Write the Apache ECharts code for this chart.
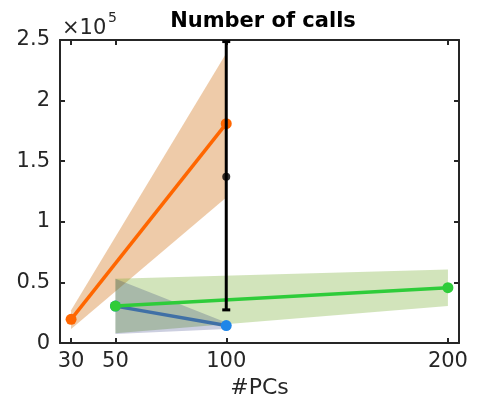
<!DOCTYPE html>
<html>
<head>
<meta charset="utf-8">
<script src="https://cdn.jsdelivr.net/npm/echarts@6/dist/echarts.min.js"></script>
<style>html,body{margin:0;padding:0;background:#fff}#c{width:477px;height:404px}</style>
</head>
<body>
<div id="c"></div>
<script>
// ---- data ----
var xTicks = [30, 50, 100, 200];
var yTicks = [0, 50000, 100000, 150000, 200000, 250000];

var pcsOrange = [30, 100];
var callsOrange = [19600, 181000];
var loOrange = [11700, 120000];
var hiOrange = [27000, 239000];

var pcsGreen = [50, 200];
var callsGreen = [30500, 45700];
var loGreen = [8200, 30500];
var hiGreen = [53000, 60700];

var pcsBlue = [50, 100];
var callsBlue = [30500, 14500];
var loBlue = [7600, 11700];
var hiBlue = [53000, 17000];

var pcsBlack = [100];
var callsBlack = [137300];
var loBlack = [27400];
var hiBlack = [248700];

var FONT = 'DejaVu Sans';
var TXT = '#262626';

function pairs(xs, ys) { return xs.map(function (x, i) { return [x, ys[i]]; }); }

function bandSeries(xs, lo, hi, color, z) {
  return {
    type: 'custom', z: z, silent: true,
    data: pairs(xs, lo),
    renderItem: function (params, api) {
      if (params.dataIndex !== 0) return null;
      var pts = [];
      for (var i = 0; i < xs.length; i++) pts.push(api.coord([xs[i], hi[i]]));
      for (var j = xs.length - 1; j >= 0; j--) pts.push(api.coord([xs[j], lo[j]]));
      return { type: 'polygon', shape: { points: pts }, style: { fill: color } };
    }
  };
}

function lineSeries(xs, ys, lineColor, markColor, z) {
  return {
    type: 'line', z: z, data: pairs(xs, ys),
    symbol: 'circle', symbolSize: 11, showSymbol: true,
    lineStyle: { color: lineColor, width: 3.5 },
    itemStyle: { color: markColor },
    emphasis: { disabled: true }, animation: false
  };
}

var chart = echarts.init(document.getElementById('c'), null, { renderer: 'canvas' });

var axisLineStyle = { color: TXT, width: 2 };

chart.setOption({
  animation: false,
  backgroundColor: '#fff',
  title: {
    text: 'Number of calls', left: 258, top: 6, textAlign: 'center',
    textStyle: { fontFamily: FONT, fontWeight: 'bold', fontSize: 21, color: '#000' }
  },
  grid: { left: 60, right: 18, top: 40, bottom: 58, containLabel: false },
  xAxis: [{
    type: 'value', min: 25, max: 205, position: 'bottom',
    name: '#PCs', nameLocation: 'middle', nameGap: 27,
    nameTextStyle: { fontFamily: FONT, fontSize: 22, color: TXT },
    axisLine: { show: true, onZero: false, lineStyle: axisLineStyle },
    axisTick: { show: true, inside: true, length: 5, customValues: xTicks, lineStyle: axisLineStyle },
    axisLabel: { customValues: xTicks, fontFamily: FONT, fontSize: 21, color: TXT, margin: 8 },
    splitLine: { show: false }
  }, {
    type: 'value', min: 25, max: 205, position: 'top',
    axisLine: { show: true, onZero: false, lineStyle: axisLineStyle },
    axisTick: { show: true, inside: true, length: 5, customValues: xTicks, lineStyle: axisLineStyle },
    axisLabel: { show: false }, splitLine: { show: false }
  }],
  yAxis: [{
    type: 'value', min: 0, max: 250000, interval: 50000, position: 'left',
    axisLine: { show: true, onZero: false, lineStyle: axisLineStyle },
    axisTick: { show: true, inside: true, length: 5, lineStyle: axisLineStyle },
    axisLabel: {
      fontFamily: FONT, fontSize: 21, color: TXT, margin: 10,
      formatter: function (v) { return String(+(v / 1e5).toFixed(2)); }
    },
    splitLine: { show: false }
  }, {
    type: 'value', min: 0, max: 250000, interval: 50000, position: 'right',
    axisLine: { show: true, onZero: false, lineStyle: axisLineStyle },
    axisTick: { show: true, inside: true, length: 5, lineStyle: axisLineStyle },
    axisLabel: { show: false }, splitLine: { show: false }
  }],
  graphic: [
    { type: 'text', left: 62, top: 18, style: { text: '×10', font: '21px "' + FONT + '"', fill: TXT } },
    { type: 'text', left: 108, top: 11, style: { text: '5', font: '14px "' + FONT + '"', fill: TXT } }
  ],
  series: [
    bandSeries(pcsOrange, loOrange, hiOrange, 'rgba(214,130,50,0.42)', 1),
    bandSeries(pcsGreen, loGreen, hiGreen, 'rgba(119,172,48,0.33)', 2),
    bandSeries(pcsBlue, loBlue, hiBlue, 'rgba(0,13,102,0.2)', 3),
    lineSeries(pcsBlue, callsBlue, '#4070A6', '#1F86E8', 4),
    lineSeries(pcsGreen, callsGreen, '#2FCC3A', '#2FCC3A', 5),
    lineSeries(pcsOrange, callsOrange, '#FF6600', '#FF6600', 6),
    {
      type: 'custom', z: 7, silent: true,
      data: pcsBlack.map(function (x, i) { return [x, loBlack[i], hiBlack[i]]; }),
      encode: { x: 0, y: [1, 2] },
      renderItem: function (params, api) {
        var top = api.coord([api.value(0), api.value(2)]);
        var bot = api.coord([api.value(0), api.value(1)]);
        var hw = 4;
        var st = { stroke: '#000', lineWidth: 3 };
        return {
          type: 'group', children: [
            { type: 'line', shape: { x1: top[0], y1: top[1], x2: bot[0], y2: bot[1] }, style: st },
            { type: 'line', shape: { x1: top[0] - hw, y1: top[1], x2: top[0] + hw, y2: top[1] }, style: st },
            { type: 'line', shape: { x1: bot[0] - hw, y1: bot[1], x2: bot[0] + hw, y2: bot[1] }, style: st }
          ]
        };
      }
    },
    {
      type: 'scatter', z: 8, data: pairs(pcsBlack, callsBlack),
      symbol: 'circle', symbolSize: 8, itemStyle: { color: '#000' }
    }
  ]
});
</script>
</body>
</html>
